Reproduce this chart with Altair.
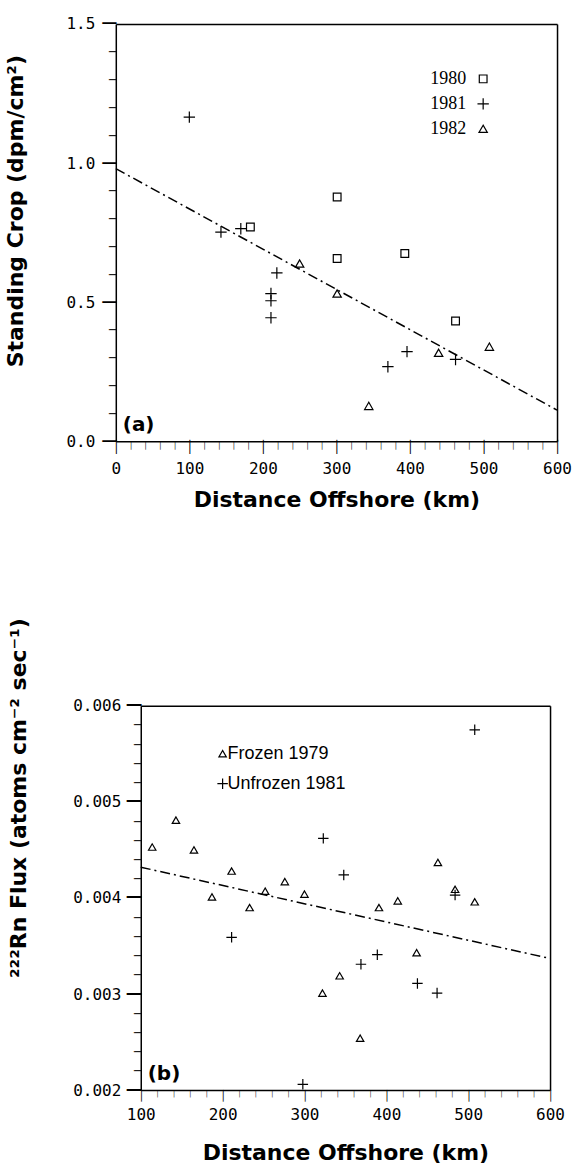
import altair as alt
import pandas as pd

# ---------------- Panel (a): Standing crop vs distance offshore ----------------
a1980_x = [183, 301, 301, 393, 462]
a1980_y = [0.770, 0.878, 0.657, 0.675, 0.432]
a1981_x = [100, 143, 170, 219, 211, 211, 211, 370, 396, 462]
a1981_y = [1.165, 0.752, 0.764, 0.605, 0.531, 0.505, 0.444, 0.268, 0.322, 0.294]
a1982_x = [250, 301, 344, 439, 508]
a1982_y = [0.639, 0.531, 0.127, 0.318, 0.340]
a_fit_x = [0, 600]
a_fit_y = [0.980, 0.112]
a_xmajor = [0, 100, 200, 300, 400, 500, 600]
a_xminor = [v for v in range(0, 601, 20) if v % 100 != 0]
a_ymajor = [0.0, 0.5, 1.0, 1.5]
a_yminor = [round(0.1 * i, 1) for i in range(16) if i % 5 != 0]
a_legend = ["1980", "1981", "1982"]

# ---------------- Panel (b): 222Rn flux vs distance offshore ----------------
b_frozen_x = [114, 143, 165, 187, 211, 233, 252, 276, 300, 322, 343, 368, 391, 414, 437, 463, 484, 508]
b_frozen_y = [0.00453, 0.00481, 0.00450, 0.00401, 0.00428, 0.00390, 0.00407, 0.00417, 0.00404,
              0.00301, 0.00319, 0.00254, 0.00390, 0.00397, 0.00343, 0.00437, 0.00409, 0.00396]
b_unfrozen_x = [211, 298, 323, 348, 369, 389, 438, 462, 484, 508]
b_unfrozen_y = [0.00359, 0.00206, 0.00462, 0.00424, 0.00331, 0.00341, 0.00311, 0.00301, 0.00403, 0.00575]
b_fit_x = [100, 600]
b_fit_y = [0.00432, 0.00337]
b_xmajor = [100, 200, 300, 400, 500, 600]
b_xminor = [v for v in range(100, 601, 20) if v % 100 != 0]
b_ymajor = [0.002, 0.003, 0.004, 0.005, 0.006]
b_yminor = [round(0.002 + 0.0002 * i, 4) for i in range(21) if i % 5 != 0]
b_legend = ["Frozen 1979", "Unfrozen 1981"]

PLUS = "M-1,0L1,0M0,-1L0,1"
DASH = [10, 4, 2, 4]
VTICK = "'\u2502'"   # light vertical box-drawing glyph used as an outward tick
HTICK = "'\u2500'"   # light horizontal box-drawing glyph used as an outward tick


def txt(s, x, y, font, size, weight="normal", align="left"):
    return alt.Chart(pd.DataFrame({"t": [s]})).mark_text(
        align=align, baseline="middle", font=font, fontSize=size, fontWeight=weight, color="black"
    ).encode(x=alt.value(x), y=alt.value(y), text="t:N")


def sym(shape, size, x, y):
    return alt.Chart(pd.DataFrame({"t": [0]})).mark_point(
        shape=shape, filled=False, color="black", size=size, strokeWidth=1.2, opacity=1
    ).encode(x=alt.value(x), y=alt.value(y))


def bare_axis(orient, **kw):
    base = dict(orient=orient, grid=False, title=None, domain=False, ticks=False,
                labelOverlap=False, labelFlush=False, labelColor="black")
    base.update(kw)
    return alt.Axis(**base)


def panel(cfg):
    w, h, x0 = cfg["w"], cfg["h"], cfg["x0"]
    xscale = alt.Scale(domain=cfg["xdom"], nice=False, zero=False, range=[x0, w])
    yscale = alt.Scale(domain=cfg["ydom"], nice=False, zero=False)
    xaxis = alt.Axis(orient="bottom", values=cfg["xmajor"], title="Distance Offshore (km)", format="d",
                     ticks=False, tickSize=0, labelPadding=cfg["xtick"] + cfg["xlabpad"],
                     labelFlush=False, labelOverlap=False, grid=False,
                     titleY=cfg["xtitle_y"], titleBaseline="middle")
    yaxis = alt.Axis(orient="left", values=cfg["ymajor"], title=cfg["ytitle"], format=cfg["yfmt"],
                     ticks=False, tickSize=0, labelPadding=cfg["ytick"] + cfg["ylabpad"],
                     labelFlush=False, labelOverlap=False, grid=False, offset=-x0,
                     titleX=cfg["ytitle_x"], titleY=cfg["ytitle_y"])
    X = lambda ax=xaxis: alt.X("x:Q", scale=xscale, axis=ax)
    Y = lambda ax=yaxis: alt.Y("y:Q", scale=yscale, axis=ax)

    layers = []
    layers.append(alt.Chart(pd.DataFrame({"x": cfg["fit_x"], "y": cfg["fit_y"]})).mark_line(
        color="black", strokeDash=DASH, strokeWidth=1.5).encode(x=X(), y=Y()))
    for xs, ys, shape, size in cfg["series"]:
        layers.append(alt.Chart(pd.DataFrame({"x": xs, "y": ys})).mark_point(
            shape=shape, filled=False, color="black", size=size, strokeWidth=1.2, opacity=1
        ).encode(x=X(), y=Y()))
    layers += cfg["extras"]
    main = alt.layer(*layers)

    anchor = pd.DataFrame({"x": [cfg["xdom"][0]], "y": [cfg["ydom"][0]]})

    def guide_layer(ax_x, ax_y):
        return alt.Chart(anchor).mark_point(opacity=0, size=1).encode(x=X(ax_x), y=Y(ax_y))

    minor = guide_layer(
        bare_axis("bottom", values=cfg["xminor"], labelExpr=VTICK, labelFont="DejaVu Sans Mono",
                  labelFontSize=cfg["xminfs"], labelPadding=0, labelBaseline="top", labelAlign="center"),
        bare_axis("left", values=cfg["yminor"], labelExpr=HTICK, labelFont="DejaVu Sans Mono",
                  labelFontSize=cfg["yminfs"], labelPadding=0, labelBaseline="middle", labelAlign="right",
                  offset=-x0),
    )
    major = guide_layer(
        bare_axis("bottom", values=cfg["xmajor"], labelExpr=VTICK, labelFont="DejaVu Sans Mono",
                  labelFontSize=cfg["xmajfs"], labelPadding=0, labelBaseline="top", labelAlign="center"),
        bare_axis("left", values=cfg["ymajor"], labelExpr=HTICK, labelFont="DejaVu Sans Mono",
                  labelFontSize=cfg["ymajfs"], labelPadding=0, labelBaseline="middle", labelAlign="right",
                  offset=-x0),
    )
    frame = guide_layer(
        bare_axis("top", labels=False, domain=True, domainColor="black", domainWidth=1.5),
        bare_axis("right", labels=False, domain=True, domainColor="black", domainWidth=1.5),
    )
    return alt.layer(main, minor, major, frame).resolve_axis(
        x="independent", y="independent"
    ).properties(width=w, height=h)


# ---- panel (a)
a_shapes = [("square", 60), (PLUS, 130), ("triangle-up", 70)]
a_extras = []
for i, lab in enumerate(a_legend):
    a_extras.append(txt(lab, 351, 55 + 25 * i, "Liberation Serif", 18, align="right"))
    a_extras.append(sym(a_shapes[i][0], a_shapes[i][1], 368, 55 + 25 * i))
a_extras.append(txt("(a)", 7, 402, "DejaVu Sans", 20, weight="bold"))
panel_a = panel(dict(
    w=442, h=418, x0=0, xdom=[0, 600], ydom=[0, 1.5],
    xmajor=a_xmajor, xminor=a_xminor, ymajor=a_ymajor, yminor=a_yminor,
    xtick=15, ytick=15, xlabpad=4, ylabpad=6,
    xminfs=7, xmajfs=12, yminfs=12, ymajfs=23,
    xtitle_y=58, ytitle="Standing Crop (dpm/cm²)", yfmt=".1f", ytitle_x=-88, ytitle_y=187,
    fit_x=a_fit_x, fit_y=a_fit_y,
    series=[(a1980_x, a1980_y, "square", 60), (a1981_x, a1981_y, PLUS, 130),
            (a1982_x, a1982_y, "triangle-up", 70)],
    extras=a_extras,
))

# ---- panel (b)  (plot area starts 25 px right of panel (a)'s)
b_extras = [
    sym("triangle-up", 55, 107, 48), txt(b_legend[0], 112, 48, "Liberation Sans", 18),
    sym(PLUS, 110, 107, 78), txt(b_legend[1], 112, 78, "Liberation Sans", 18),
    txt("(b)", 32, 369, "DejaVu Sans", 20, weight="bold"),
]
panel_b = panel(dict(
    w=435, h=385, x0=25, xdom=[100, 600], ydom=[0.002, 0.006],
    xmajor=b_xmajor, xminor=b_xminor, ymajor=b_ymajor, yminor=b_yminor,
    xtick=12, ytick=16, xlabpad=4, ylabpad=4,
    xminfs=6, xmajfs=10, yminfs=12, ymajfs=24,
    xtitle_y=63, ytitle="²²²Rn Flux (atoms cm⁻² sec⁻¹)", yfmt=".3f", ytitle_x=-110, ytitle_y=92,
    fit_x=b_fit_x, fit_y=b_fit_y,
    series=[(b_frozen_x, b_frozen_y, "triangle-up", 55), (b_unfrozen_x, b_unfrozen_y, PLUS, 110)],
    extras=b_extras,
))

chart = alt.vconcat(panel_a, panel_b, spacing=107).properties(
    padding={"left": 4, "top": 12, "right": 1, "bottom": 5}, background="white"
).configure_view(
    stroke=None
).configure_axis(
    domainColor="black", domainWidth=1.5,
    labelColor="black", titleColor="black",
    labelFont="DejaVu Sans Mono", labelFontSize=16,
    titleFont="DejaVu Sans", titleFontSize=22, titleFontWeight="bold",
)

chart.save("out.html", embed_options={"renderer": "svg", "actions": False})
